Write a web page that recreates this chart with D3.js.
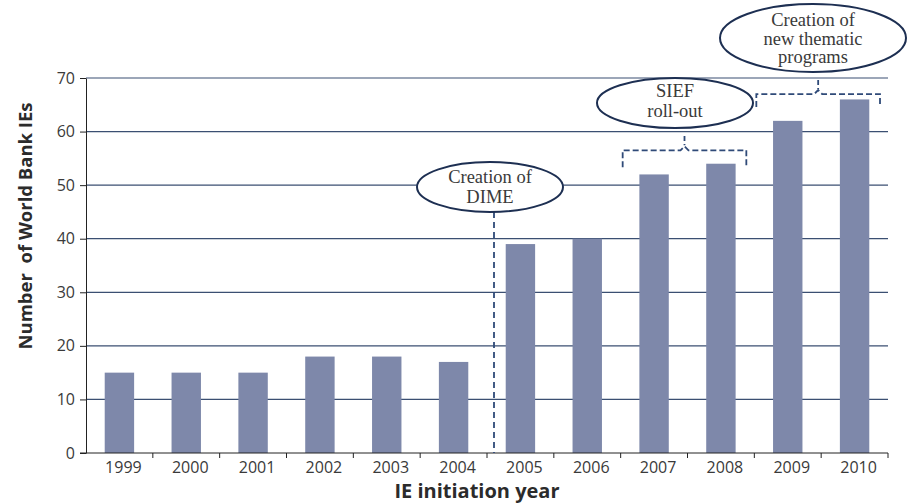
<!DOCTYPE html>
<html lang="en">
<head>
<meta charset="UTF-8">
<title>World Bank IEs</title>
<script src="https://cdn.jsdelivr.net/npm/d3@7"></script>
<style>
    body { margin: 0; background: #fff; }
    svg { display: block; }
</style>
</head>
<body>
<script>
    var years = ['1999', '2000', '2001', '2002', '2003', '2004', '2005', '2006', '2007', '2008', '2009', '2010'];
    var counts = [15, 15, 15, 18, 18, 17, 39, 40, 52, 54, 62, 66];
    var yTicks = [0, 10, 20, 30, 40, 50, 60, 70];

    var W = 909, H = 504;
    var margin = { left: 86, right: 21, top: 78, bottom: 51 };
    var innerW = W - margin.left - margin.right;
    var innerH = H - margin.top - margin.bottom;

    var navy = '#1d2f52';
    var grid = '#3b4f72';
    var dash = '#2f4a78';
    var txt = '#3a3a3a';
    var sans = 'Open Sans, DejaVu Sans, sans-serif';
    var serif = 'Liberation Serif, DejaVu Serif, serif';

    var svg = d3.select('body').append('svg')
        .attr('width', W)
        .attr('height', H);

    var g = svg.append('g')
        .attr('transform', 'translate(' + margin.left + ',' + margin.top + ')');

    var x = d3.scaleBand()
        .domain(years)
        .range([0, innerW]);

    var y = d3.scaleLinear()
        .domain([0, 70])
        .range([innerH, 0]);

    // gridlines
    g.selectAll('.grid')
        .data(yTicks.filter(d => d > 0))
        .enter()
        .append('line')
        .attr('x1', 0)
        .attr('x2', innerW)
        .attr('y1', d => y(d))
        .attr('y2', d => y(d))
        .attr('stroke', grid)
        .attr('stroke-width', 1.2);

    // bars
    var bw = x.bandwidth() * 0.44;
    g.selectAll('rect')
        .data(counts)
        .enter()
        .append('rect')
        .attr('x', (d, i) => x(years[i]) + (x.bandwidth() - bw) / 2)
        .attr('width', bw)
        .attr('y', d => y(d))
        .attr('height', d => innerH - y(d))
        .attr('fill', '#7e88aa');

    // y axis
    var yaxis = d3.axisLeft(y).tickValues(yTicks).tickSize(6).tickSizeOuter(0).tickPadding(5);
    var ya = g.append('g').call(yaxis);
    ya.select('.domain').attr('stroke', '#222');
    ya.selectAll('.tick line').attr('stroke', '#222');
    ya.selectAll('text')
        .attr('fill', txt)
        .style('font-family', sans)
        .style('font-size', '16px');

    // x axis: ticks sit between the bands
    var xa = g.append('g').attr('transform', 'translate(0,' + innerH + ')');
    xa.append('line')
        .attr('x1', -6).attr('x2', innerW)
        .attr('stroke', '#222');
    var bounds = years.map(d => x(d)).concat([innerW]);
    xa.selectAll('.xt')
        .data(bounds.slice(1))
        .enter()
        .append('line')
        .attr('x1', d => d).attr('x2', d => d)
        .attr('y1', 0).attr('y2', 5)
        .attr('stroke', '#222');
    xa.selectAll('.xl')
        .data(years)
        .enter()
        .append('text')
        .attr('x', d => x(d) + x.bandwidth() / 2 + 4)
        .attr('y', 20)
        .attr('text-anchor', 'middle')
        .attr('fill', txt)
        .style('font-family', sans)
        .style('font-size', '16px')
        .text(d => d);

    // axis titles
    svg.append('text')
        .attr('x', 477)
        .attr('y', 498)
        .attr('text-anchor', 'middle')
        .attr('fill', '#2b2b2b')
        .style('font-family', sans)
        .style('font-weight', 'bold')
        .style('font-size', '20px')
        .text('IE initiation year');

    svg.append('text')
        .attr('transform', 'translate(32,226) rotate(-90)')
        .attr('text-anchor', 'middle')
        .attr('fill', '#2b2b2b')
        .style('font-family', sans)
        .style('font-weight', 'bold')
        .style('font-size', '18.5px')
        .style('white-space', 'pre')
        .text('Number  of World Bank IEs');

    // annotations
    function bubble(cx, cy, rx, ry, lines, lh, off) {
        svg.append('ellipse')
            .attr('cx', cx).attr('cy', cy)
            .attr('rx', rx).attr('ry', ry)
            .attr('fill', '#fff')
            .attr('stroke', navy)
            .attr('stroke-width', 2);
        var t0 = cy - (lines.length - 1) * lh / 2 + off;
        lines.forEach(function (s, i) {
            svg.append('text')
                .attr('x', cx).attr('y', t0 + i * lh)
                .attr('text-anchor', 'middle')
                .attr('fill', txt)
                .style('font-family', serif)
                .style('font-size', '18.5px')
                .text(s);
        });
    }

    function bracket(a, b, yTop, yEnd, stemTop) {
        var x0 = margin.left + x(a) + 2;
        var x1 = margin.left + x(b) + x.bandwidth() - 8;
        var mid = (x0 + x1) / 2;
        var yy = margin.top + y(yTop);
        var p = d3.path();
        p.moveTo(x0, yy + yEnd);
        p.lineTo(x0, yy);
        p.lineTo(mid - 4, yy);
        p.lineTo(mid, yy - 4);
        p.lineTo(mid + 4, yy);
        p.lineTo(x1, yy);
        p.lineTo(x1, yy + yEnd);
        svg.append('path')
            .attr('d', p.toString())
            .attr('fill', 'none')
            .attr('stroke', dash)
            .attr('stroke-width', 1.8)
            .attr('stroke-dasharray', '6,3');
        svg.append('line')
            .attr('x1', mid).attr('x2', mid)
            .attr('y1', stemTop).attr('y2', yy - 5)
            .attr('stroke', dash)
            .attr('stroke-width', 1.8)
            .attr('stroke-dasharray', '5,3');
    }

    // DIME line
    var dimeX = margin.left + x('2005') + 7;
    svg.append('line')
        .attr('x1', dimeX).attr('x2', dimeX)
        .attr('y1', 212).attr('y2', margin.top + innerH)
        .attr('stroke', dash)
        .attr('stroke-width', 1.8)
        .attr('stroke-dasharray', '6,4');
    bubble(490, 187, 73, 25, ['Creation of', 'DIME'], 20, 6);

    bracket('2007', '2008', 56.5, 17, 136);
    bubble(675, 103, 78, 25, ['SIEF', 'roll-out'], 20, 4);

    bracket('2009', '2010', 67, 13, 80);
    bubble(813, 38, 93, 34, ['Creation of', 'new thematic', 'programs'], 18.5, 6.5);
</script>
</body>
</html>
